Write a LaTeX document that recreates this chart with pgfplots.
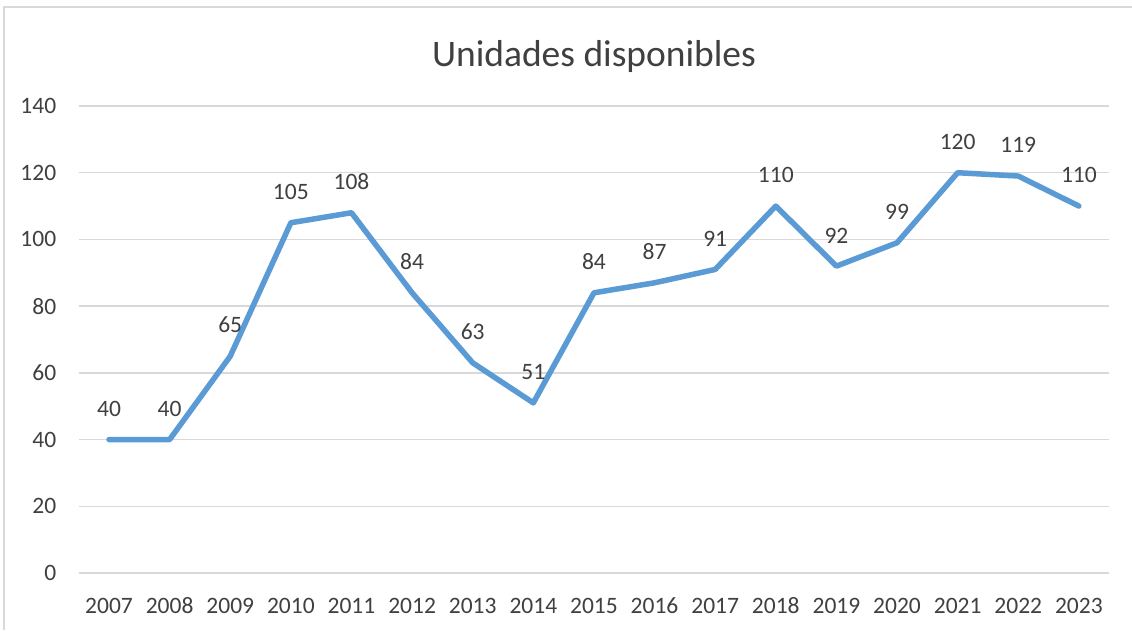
\documentclass[border=0pt]{standalone}
\usepackage{fontspec}
\setmainfont{Carlito}
\usepackage{pgfplots}
\pgfplotsset{compat=1.18}
\definecolor{linecol}{HTML}{5B9BD5}
\definecolor{txt}{HTML}{404040}
\definecolor{gridc}{HTML}{D9D9D9}
\begin{document}
\begin{tikzpicture}[x=1pt,y=1pt]
\useasboundingbox (0,0) rectangle (1132,630);
\fill[white] (0,0) rectangle (1132,630);
\draw[gridc, line width=1.5pt] (4,0) -- (4,623) -- (1132,623);
\node[txt, font=\fontsize{37.5}{40}\selectfont] at (594,573) {Unidades disponibles};
\begin{axis}[
    at={(78.7pt,57pt)}, anchor=south west,
    scale only axis,
    width=1030.5pt, height=467pt,
    xmin=-0.5, xmax=16.5,
    ymin=0, ymax=140,
    xtick={0,...,16},
    xticklabels={2007,2008,2009,2010,2011,2012,2013,2014,2015,2016,2017,2018,2019,2020,2021,2022,2023},
    ytick={0,20,...,140},
    ymajorgrids,
    grid style={gridc, line width=1.5pt},
    axis line style={draw=none},
    axis x line*=bottom,
    x axis line style={gridc, line width=1.5pt},
    major tick length=0pt,
    tick label style={txt, font=\fontsize{23.5}{26}\selectfont},
    /pgf/number format/assume math mode=true,
    yticklabel style={xshift=-19pt},
    xticklabel style={anchor=base, yshift=-40pt},
    nodes near coords,
    every node near coord/.style={txt, font=\fontsize{23.5}{26}\selectfont, anchor=south, yshift=17pt},
    clip=false,
]
\addplot[linecol, line width=5.5pt, line join=round, line cap=round] coordinates {
    (0,40)(1,40)(2,65)(3,105)(4,108)(5,84)(6,63)(7,51)(8,84)(9,87)(10,91)(11,110)(12,92)(13,99)(14,120)(15,119)(16,110)
};
\end{axis}
\end{tikzpicture}
\end{document}
